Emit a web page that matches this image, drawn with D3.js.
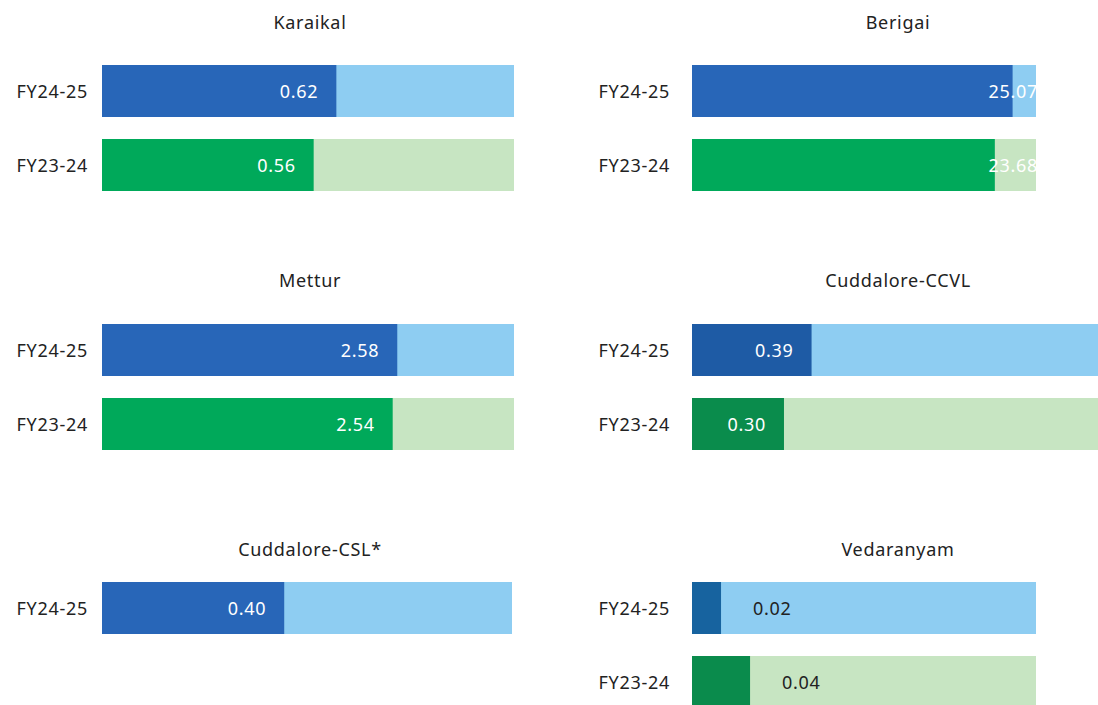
<!DOCTYPE html>
<html lang="en">
  <head>
    <meta charset="UTF-8" />
    <title>Site values FY24-25 vs FY23-24</title>
    <script src="https://cdn.jsdelivr.net/npm/d3@7"></script>
    <style>
      body {
        margin: 0;
        background: #fff;
      }
      svg {
        display: block;
        font-family: "Noto Sans", "DejaVu Sans", sans-serif;
        letter-spacing: 0.7px;
      }
    </style>
  </head>
  <body>
    <script>
      // data
      const sites = ["Karaikal", "Berigai", "Mettur", "Cuddalore-CCVL", "Cuddalore-CSL*", "Vedaranyam"];
      const years = ["FY24-25", "FY23-24"];
      const fy2425 = [0.62, 25.07, 2.58, 0.39, 0.40, 0.02];
      const fy2324 = [0.56, 23.68, 2.54, 0.30, null, 0.04];
      // full length of the light track, in the same units
      const trackMax = [1.09, 26.9, 3.6, 1.37, 0.9, 0.237];

      const width = 1098, height = 705;
      const barH = 52, gap = 22;
      const colX = [102, 692];
      const labelGap = [14, 22];
      const titleX = [310, 898];
      const rowTop = [65, 324, 582];
      const titleY = [22, 280, 549];
      const trackW = [412, 344, 412, 420, 410, 344];
      const fontSize = 18;

      const dark = [
        ["#2866b8", "#00a95a"],
        ["#2866b8", "#00a95a"],
        ["#2866b8", "#00a95a"],
        ["#1e5ba5", "#0a8c4c"],
        ["#2866b8", "#00a95a"],
        ["#17639f", "#0a8b4c"]
      ];
      const light = ["#8ecdf2", "#c7e5c2"];

      const svg = d3.select("body").append("svg")
        .attr("width", width)
        .attr("height", height);

      sites.forEach((name, i) => {
        const col = i % 2, row = Math.floor(i / 2);
        const x0 = colX[col];
        const g = svg.append("g").attr("class", "panel");

        g.append("text")
          .attr("x", titleX[col])
          .attr("y", titleY[row])
          .attr("text-anchor", "middle")
          .attr("dominant-baseline", "central")
          .attr("font-size", fontSize)
          .attr("fill", "#222")
          .text(name);

        const x = d3.scaleLinear()
          .domain([0, trackMax[i]])
          .range([x0, x0 + trackW[i]]);

        const rows = [fy2425[i], fy2324[i]]
          .map((v, k) => ({ year: years[k], k, v }))
          .filter(d => d.v != null);

        const y = d3.scaleBand()
          .domain(years)
          .range([rowTop[row], rowTop[row] + 2 * barH + gap])
          .paddingInner(gap / (barH + gap))
          .paddingOuter(0);

        const bars = g.selectAll("g.bar").data(rows).join("g").attr("class", "bar");

        bars.append("rect")
          .attr("x", x(0))
          .attr("y", d => y(d.year))
          .attr("width", x(trackMax[i]) - x(0))
          .attr("height", y.bandwidth())
          .attr("fill", d => light[d.k]);

        bars.append("rect")
          .attr("x", x(0))
          .attr("y", d => y(d.year))
          .attr("width", d => x(d.v) - x(0))
          .attr("height", y.bandwidth())
          .attr("fill", d => dark[i][d.k]);

        bars.append("text")
          .attr("x", x0 - labelGap[col])
          .attr("y", d => y(d.year) + y.bandwidth() / 2)
          .attr("text-anchor", "end")
          .attr("dominant-baseline", "central")
          .attr("font-size", fontSize)
          .attr("fill", "#222")
          .text(d => d.year);

        bars.append("text")
          .attr("y", d => y(d.year) + y.bandwidth() / 2)
          .attr("dominant-baseline", "central")
          .attr("font-size", fontSize)
          .each(function (d) {
            const frac = d.v / trackMax[i];
            const t = d3.select(this);
            if (frac > 0.85) {
              t.attr("x", x(trackMax[i]) + 2).attr("text-anchor", "end").attr("fill", "#fff");
            } else if (frac < 0.2) {
              t.attr("x", x(d.v) + 32).attr("text-anchor", "start").attr("fill", "#222");
            } else {
              t.attr("x", x(d.v) - 18).attr("text-anchor", "end").attr("fill", "#fff");
            }
          })
          .text(d => d3.format(".2f")(d.v));
      });
    </script>
  </body>
</html>
